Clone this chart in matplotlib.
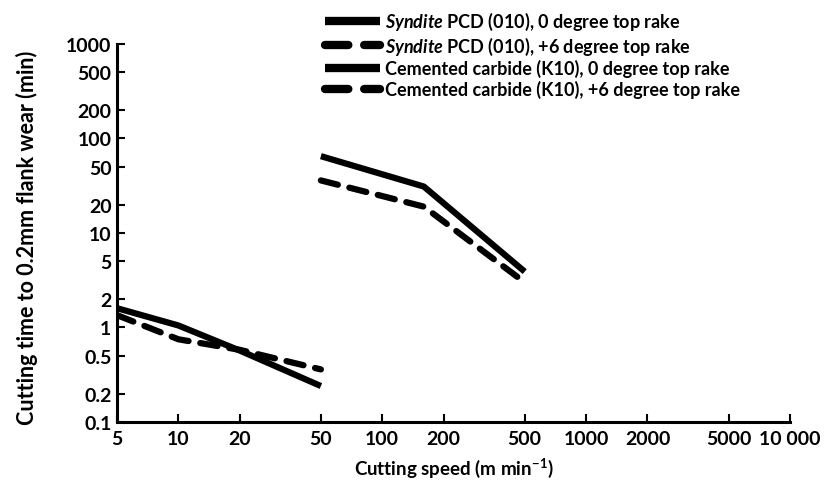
import matplotlib.pyplot as plt
from matplotlib.ticker import FixedLocator, FixedFormatter, NullLocator

# values (log-log)
speed_pcd = [50, 160, 500]
pcd_rake0 = [65, 31, 3.9]
pcd_rake6 = [36, 19, 3.0]

speed_carbide = [5, 10, 20, 50]
carbide_rake0 = [1.6, 1.05, 0.57, 0.24]
carbide_rake6 = [1.35, 0.75, 0.58, 0.36]

x_ticks = [5, 10, 20, 50, 100, 200, 500, 1000, 2000, 5000, 10000]
x_labels = ['5', '10', '20', '50', '100', '200', '500', '1000', '2000',
            '5000', '10 000']
y_ticks = [0.1, 0.2, 0.5, 1, 2, 5, 10, 20, 50, 100, 200, 500, 1000]
y_labels = ['0.1', '0.2', '0.5', '1', '2', '5', '10', '20', '50', '100',
            '200', '500', '1000']

series_labels = [
    r'$\mathit{Syndite}$ PCD (010), 0 degree top rake',
    r'$\mathit{Syndite}$ PCD (010), +6 degree top rake',
    'Cemented carbide (K10), 0 degree top rake',
    'Cemented carbide (K10), +6 degree top rake',
]

plt.rcParams['font.family'] = ['Lato', 'DejaVu Sans']
plt.rcParams['font.weight'] = 'bold'
plt.rcParams['axes.labelweight'] = 'bold'
plt.rcParams['mathtext.fontset'] = 'custom'
plt.rcParams['mathtext.it'] = 'Lato:italic:bold'
plt.rcParams['mathtext.rm'] = 'Lato:bold'

fig = plt.figure(figsize=(8.39, 4.89), dpi=100)
ax = fig.add_axes([0.1395, 0.135, 0.802, 0.773])

line_kw = dict(color='black', lw=4.5, solid_capstyle='butt',
               dash_capstyle='round', solid_joinstyle='round')
dash = (2.8, 1.9)

h1, = ax.plot(speed_pcd, pcd_rake0, **line_kw)
h2, = ax.plot(speed_pcd, pcd_rake6, dashes=dash, **line_kw)
h3, = ax.plot(speed_carbide, carbide_rake0, **line_kw)
h4, = ax.plot(speed_carbide, carbide_rake6, dashes=dash, **line_kw)

ax.set_xscale('log')
ax.set_yscale('log')
ax.set_xlim(5, 10000)
ax.set_ylim(0.1, 1000)

ax.xaxis.set_major_locator(FixedLocator(x_ticks))
ax.xaxis.set_major_formatter(FixedFormatter(x_labels))
ax.xaxis.set_minor_locator(NullLocator())
ax.yaxis.set_major_locator(FixedLocator(y_ticks))
ax.yaxis.set_major_formatter(FixedFormatter(y_labels))
ax.yaxis.set_minor_locator(NullLocator())

ax.tick_params(axis='both', direction='in', length=6, width=1.5,
               labelsize=14, pad=4)
ax.tick_params(axis='x', pad=6)

for side in ['top', 'right']:
    ax.spines[side].set_visible(False)
for side in ['left', 'bottom']:
    ax.spines[side].set_linewidth(2.2)

ax.set_xlabel('Cutting speed (m min$^{-1}$)', fontsize=13.5, labelpad=6)
ax.set_ylabel('Cutting time to 0.2mm flank wear (min)', fontsize=15.5,
              labelpad=14)
ax.yaxis.set_label_coords(-0.118, 0.49)

leg = fig.legend([h1, h2, h3, h4], series_labels, loc='upper left',
                 bbox_to_anchor=(0.375, 1.0), frameon=False, fontsize=13,
                 handlelength=3.0, handletextpad=0.3, labelspacing=0.15,
                 borderaxespad=0.2)
for handle in leg.legend_handles:
    handle.set_linewidth(6)

fig.savefig('out.png', dpi=100)
